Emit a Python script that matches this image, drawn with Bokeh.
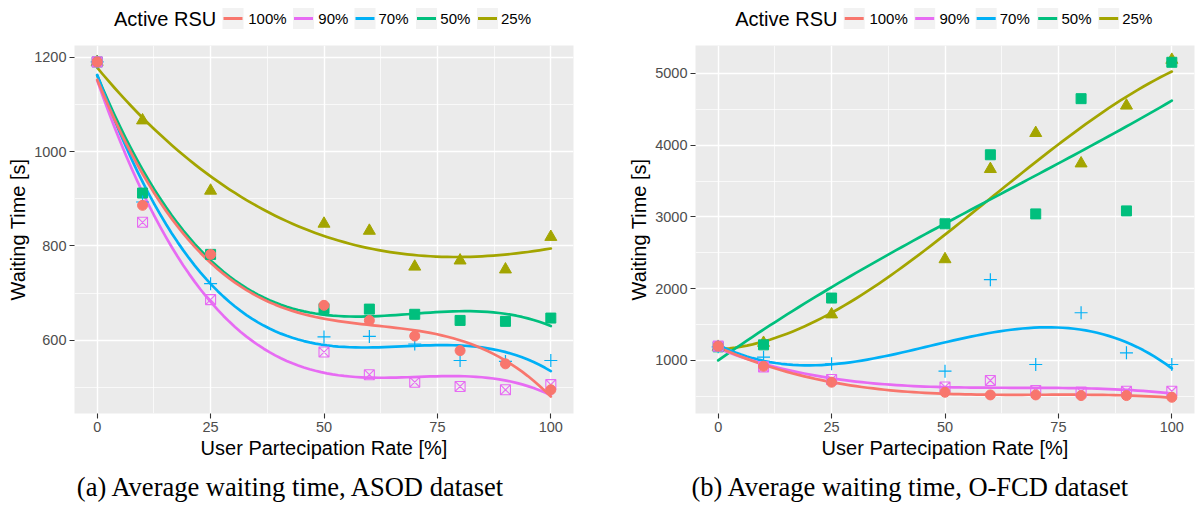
import numpy as np
from bokeh.plotting import figure
from bokeh.models import Range1d, FixedTicker
from bokeh.layouts import row, column
from bokeh.embed import file_html
from bokeh.resources import INLINE
from bokeh.core.properties import value

# ---------------- data ----------------
rate = [0, 10, 25, 50, 60, 70, 80, 90, 100]
rsu_levels = ["100%", "90%", "70%", "50%", "25%"]

# (a) ASOD dataset, waiting time [s]
asod_100 = [1190, 886, 782, 674, 642, 609, 578, 550, 495]
asod_90 = [1190, 850, 686, 575, 527, 511, 502, 495, 506]
asod_70 = [1190, 893, 720, 607, 608, 592, 557, 555, 557]
asod_50 = [1190, 912, 782, 667, 666, 655, 642, 640, 647]
asod_25 = [1190, 1066, 917, 847, 832, 756, 769, 750, 819]

# (b) O-FCD dataset, waiting time [s]
ofcd_100 = [1200, 920, 697, 557, 520, 520, 511, 511, 487]
ofcd_90 = [1200, 911, 735, 631, 721, 581, 561, 571, 571]
ofcd_70 = [1190, 1046, 953, 851, 2126, 944, 1665, 1106, 944]
ofcd_50 = [1190, 1218, 1870, 2905, 3867, 3043, 4649, 3085, 5156]
ofcd_25 = [1190, 1245, 1642, 2411, 3668, 4170, 3746, 4552, 5190]

x_ticks = [0, 25, 50, 75, 100]
x_minor = [-12.5, 12.5, 37.5, 62.5, 87.5, 112.5]
asod_ticks = [600, 800, 1000, 1200]
asod_minor = [500, 700, 900, 1100]
ofcd_ticks = [1000, 2000, 3000, 4000, 5000]
ofcd_minor = [500, 1500, 2500, 3500, 4500]

legend_title = "Active RSU"
x_title = "User Partecipation Rate [%]"
y_title = "Waiting Time [s]"
caption_a = "(a) Average waiting time, ASOD dataset"
caption_b = "(b) Average waiting time, O-FCD dataset"

# ---------------- styles ----------------
COLORS = {"100%": "#F8766D", "90%": "#E76BF3", "70%": "#00B0F6",
          "50%": "#00BF7D", "25%": "#A3A500"}
SANS = "Liberation Sans"
SERIF = "Liberation Serif"
PANEL_BG = "#EBEBEB"
FRAME_W = 499


def smooth(x, y, xs, degree=3):
    """Least-squares polynomial trend (geom_smooth(method='lm', formula=y ~ poly(x, 3)))."""
    coef = np.polyfit(np.asarray(x, float), np.asarray(y, float), degree)
    return np.polyval(coef, xs)


def draw_points(p, level, ys):
    c = COLORS[level]
    if level == "100%":
        p.scatter(rate, ys, marker="circle", size=10, fill_color=c, line_color=c)
    elif level == "90%":
        p.scatter(rate, ys, marker="square_x", size=10, fill_color=None,
                  line_color=c, line_width=1.1)
    elif level == "70%":
        p.scatter(rate, ys, marker="cross", size=13, line_color=c, line_width=1.2)
    elif level == "50%":
        p.scatter(rate, ys, marker="square", size=10, fill_color=c, line_color=c)
    else:
        p.scatter(rate, ys, marker="triangle", size=12, fill_color=c, line_color=c)


def style_axis(ax):
    ax.axis_line_color = None
    ax.major_tick_line_color = "#333333"
    ax.major_tick_line_width = 1.1
    ax.major_tick_out = 5
    ax.major_tick_in = 0
    ax.minor_tick_line_color = None
    ax.minor_tick_out = 0
    ax.minor_tick_in = 0
    ax.major_label_text_font = SANS
    ax.major_label_text_font_size = "14.5px"
    ax.major_label_text_color = "#4D4D4D"
    ax.major_label_standoff = 3
    ax.axis_label_text_font = SANS
    ax.axis_label_text_font_size = "20px"
    ax.axis_label_text_font_style = "normal"
    ax.axis_label_text_color = "black"
    ax.axis_label_standoff = 2


def strip(width, height, b_left, b_right, x0, x1):
    s = figure(width=width, height=height,
               x_range=Range1d(x0, x1), y_range=Range1d(0, height),
               x_axis_type=None, y_axis_type=None, output_backend="svg",
               toolbar_location=None, min_border_left=b_left, min_border_right=b_right,
               min_border_top=0, min_border_bottom=0, outline_line_color=None,
               background_fill_color="white", border_fill_color="white")
    s.grid.visible = False
    return s


def make_panel(series, yrange, yticks, yminor, width, b_left, b_right, legend_center):
    # ---- legend strip (x in pixels of this column) ----
    LH = 45
    lg = strip(width, LH, b_left, b_right, b_left, b_left + FRAME_W)
    yc = 27
    key_off = [-101, -30.5, 31, 92.5, 153.5]
    lab_off = [-75.3, -5.2, 55, 116.8, 177.5]
    kw = 21
    kx = [legend_center + o + kw / 2 for o in key_off]
    lg.rect(x=kx, y=[yc] * 5, width=kw, height=kw, fill_color="#F2F2F2", line_color=None)
    lg.segment(x0=[k - kw / 2 + 1 for k in kx], y0=[yc] * 5,
               x1=[k + kw / 2 - 1 for k in kx], y1=[yc] * 5,
               line_color=[COLORS[l] for l in rsu_levels], line_width=2.8)
    lg.text(x=[legend_center + o for o in lab_off], y=[yc] * 5, text=rsu_levels,
            text_font=value(SANS), text_font_size="15px", text_baseline="middle",
            text_align="left", text_color="black")
    lg.text(x=[legend_center - 209.5], y=[yc], text=[legend_title],
            text_font=value(SANS), text_font_size="20px", text_baseline="middle",
            text_align="left", text_color="black")

    # ---- main panel ----
    p = figure(width=width, height=423, x_range=Range1d(-5, 105), y_range=Range1d(*yrange),
               output_backend="svg", toolbar_location=None,
               min_border_left=b_left, min_border_right=b_right,
               min_border_top=0, min_border_bottom=55,
               background_fill_color=PANEL_BG, border_fill_color="white",
               outline_line_color=None)
    p.xaxis.ticker = FixedTicker(ticks=x_ticks, minor_ticks=x_minor)
    p.yaxis.ticker = FixedTicker(ticks=yticks, minor_ticks=yminor)
    p.xaxis.axis_label = x_title
    p.yaxis.axis_label = y_title
    style_axis(p.xaxis[0])
    style_axis(p.yaxis[0])
    for g in (p.xgrid[0], p.ygrid[0]):
        g.grid_line_color = "white"
        g.grid_line_width = 1.4
        g.minor_grid_line_color = "white"
        g.minor_grid_line_width = 0.7

    xs = np.linspace(0, 100, 80)
    for level in ["25%", "50%", "70%", "90%", "100%"]:
        p.line(xs, smooth(rate, series[level], xs), line_color=COLORS[level],
               line_width=2.7, line_join="round", line_cap="round")
    for level in ["25%", "50%", "70%", "90%", "100%"]:
        draw_points(p, level, series[level])
    return column(lg, p, spacing=0)


left = make_panel({"100%": asod_100, "90%": asod_90, "70%": asod_70, "50%": asod_50, "25%": asod_25},
                  (444.7, 1224.8), asod_ticks, asod_minor, 600, 74, 27, 323)
right = make_panel({"100%": ofcd_100, "90%": ofcd_90, "70%": ofcd_70, "50%": ofcd_50, "25%": ofcd_25},
                   (261, 5390), ofcd_ticks, ofcd_minor, 595, 95, 1, 344.2)

# ---- caption strip spanning both panels (x in page pixels) ----
CW, CH = 1195, 37
cap = strip(CW, CH, 0, 0, 0, CW)
cap.text(x=[291, 910], y=[18.5, 18.5], text=[caption_a, caption_b], text_font=value(SERIF),
         text_font_size="26.5px", text_baseline="middle", text_align="center",
         text_color="black")

layout = column(row(left, right, spacing=0), cap, spacing=0)
open("out.html", "w").write(file_html(layout, INLINE))
